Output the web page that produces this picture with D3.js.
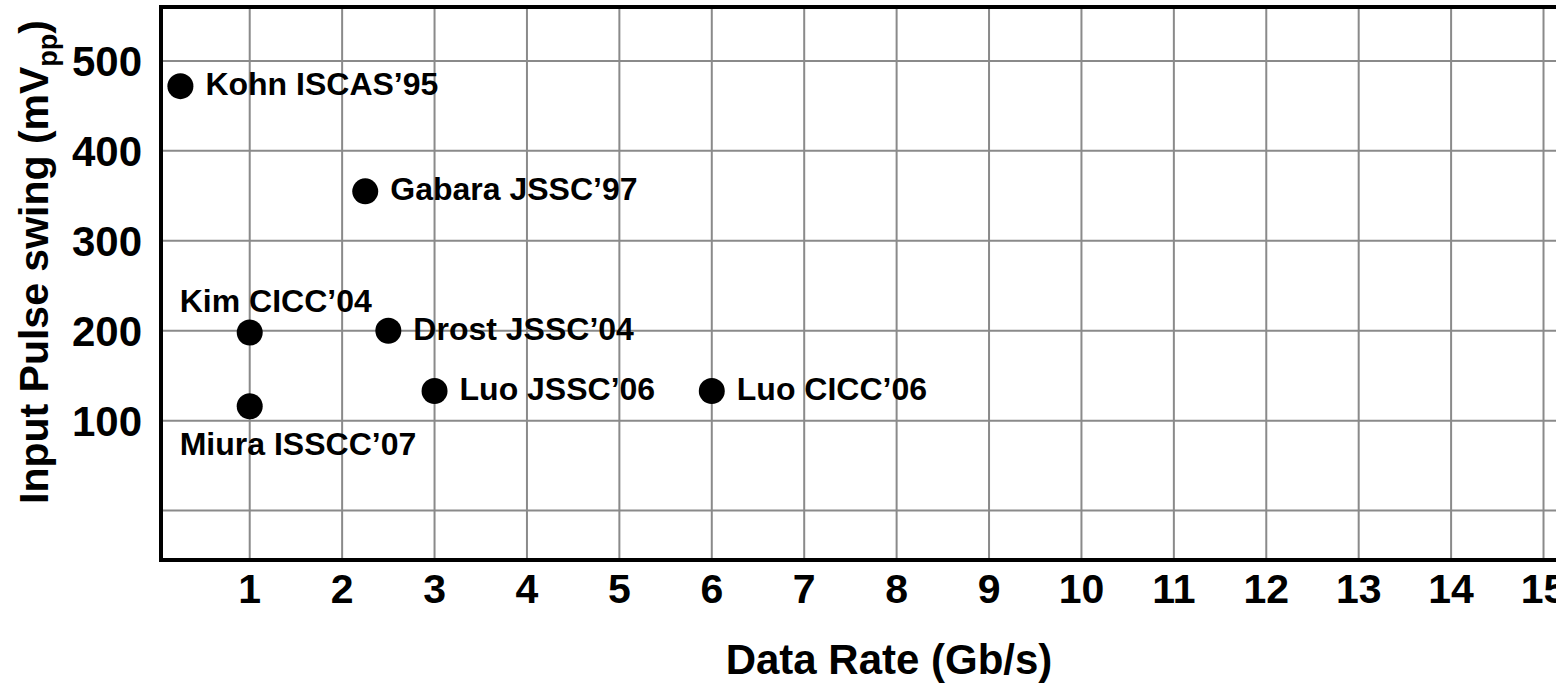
<!DOCTYPE html>
<html>
<head>
<meta charset="utf-8">
<script src="https://cdn.jsdelivr.net/npm/d3@7"></script>
<style>
  html, body { margin: 0; padding: 0; background: #fff; }
  svg { display: block; font-family: "Liberation Sans", Arial, Helvetica, sans-serif; font-weight: bold; }
</style>
</head>
<body>
<svg id="chart" width="1556" height="683"></svg>
<script>
// ---- data ----
const labels = ["Kohn ISCAS\u201995", "Gabara JSSC\u201997", "Kim CICC\u201904", "Drost JSSC\u201904", "Miura ISSCC\u201907", "Luo JSSC\u201906", "Luo CICC\u201906"];
const dataRate = [0.25, 2.25, 1, 2.5, 1, 3, 6];          // Gb/s
const swing = [472, 355, 198, 200, 116, 133, 133];          // mVpp
const labelSide = ["right", "right", "above", "right", "below", "right", "right"];
const xTicks = [1, 2, 3, 4, 5, 6, 7, 8, 9, 10, 11, 12, 13, 14, 15];
const yTicks = [100, 200, 300, 400, 500];
const yGrid = [0, 100, 200, 300, 400, 500];
const xTitle = "Data Rate (Gb/s)";
const yTitleMain = "Input Pulse swing (mV";
const yTitleSub = "pp";

(function () {
  // ---- layout ----
  const svg = d3.select("#chart");
  const mLeft = 161, mTop = 7, mBottom = 560, mRight = 1562;
  const x = d3.scaleLinear().domain([0.04, 15.2]).range([mLeft, mRight]);
  const y = d3.scaleLinear().domain([-55, 560]).range([mBottom, mTop]);
  const grid = "#8a8a8a";

  // grid
  svg.append("g").selectAll("line").data(yGrid).join("line")
    .attr("x1", mLeft).attr("x2", 1556)
    .attr("y1", d => y(d)).attr("y2", d => y(d))
    .attr("stroke", grid).attr("stroke-width", 2);
  svg.append("g").selectAll("line").data(xTicks).join("line")
    .attr("x1", d => x(d)).attr("x2", d => x(d))
    .attr("y1", mTop).attr("y2", mBottom)
    .attr("stroke", grid).attr("stroke-width", 2);

  // frame (left, top, bottom)
  svg.append("path")
    .attr("d", `M1560,${mTop}H${mLeft}V${mBottom}H1560`)
    .attr("fill", "none").attr("stroke", "#000").attr("stroke-width", 4);

  // x tick labels
  svg.append("g").selectAll("text").data(xTicks).join("text")
    .attr("x", d => x(d)).attr("y", 603)
    .attr("text-anchor", "middle").attr("font-size", 41)
    .text(d => d);

  // y tick labels
  svg.append("g").selectAll("text").data(yTicks).join("text")
    .attr("x", 142).attr("y", d => y(d) + 15)
    .attr("text-anchor", "end").attr("font-size", 42)
    .text(d => d);

  // axis titles
  svg.append("text").attr("x", 889).attr("y", 674)
    .attr("text-anchor", "middle").attr("font-size", 42).text(xTitle);
  const yt = svg.append("text")
    .attr("transform", "translate(48,262) rotate(-90)")
    .attr("text-anchor", "middle").attr("font-size", 41);
  yt.append("tspan").text(yTitleMain);
  yt.append("tspan").attr("font-size", 27).attr("dy", 9).text(yTitleSub);
  yt.append("tspan").attr("dy", -9).text(")");

  // points
  const pts = labels.map((l, i) => ({ label: l, x: dataRate[i], y: swing[i], side: labelSide[i] }));
  svg.append("g").selectAll("circle").data(pts).join("circle")
    .attr("cx", d => x(d.x)).attr("cy", d => y(d.y)).attr("r", 13).attr("fill", "#000");

  svg.append("g").selectAll("text").data(pts).join("text")
    .attr("font-size", 32)
    .attr("x", d => x(d.x) + (d.side === "right" ? 25 : -70))
    .attr("y", d => y(d.y) + (d.side === "right" ? 9 : d.side === "above" ? -21 : 49))
    .text(d => d.label);
})();
</script>
</body>
</html>
